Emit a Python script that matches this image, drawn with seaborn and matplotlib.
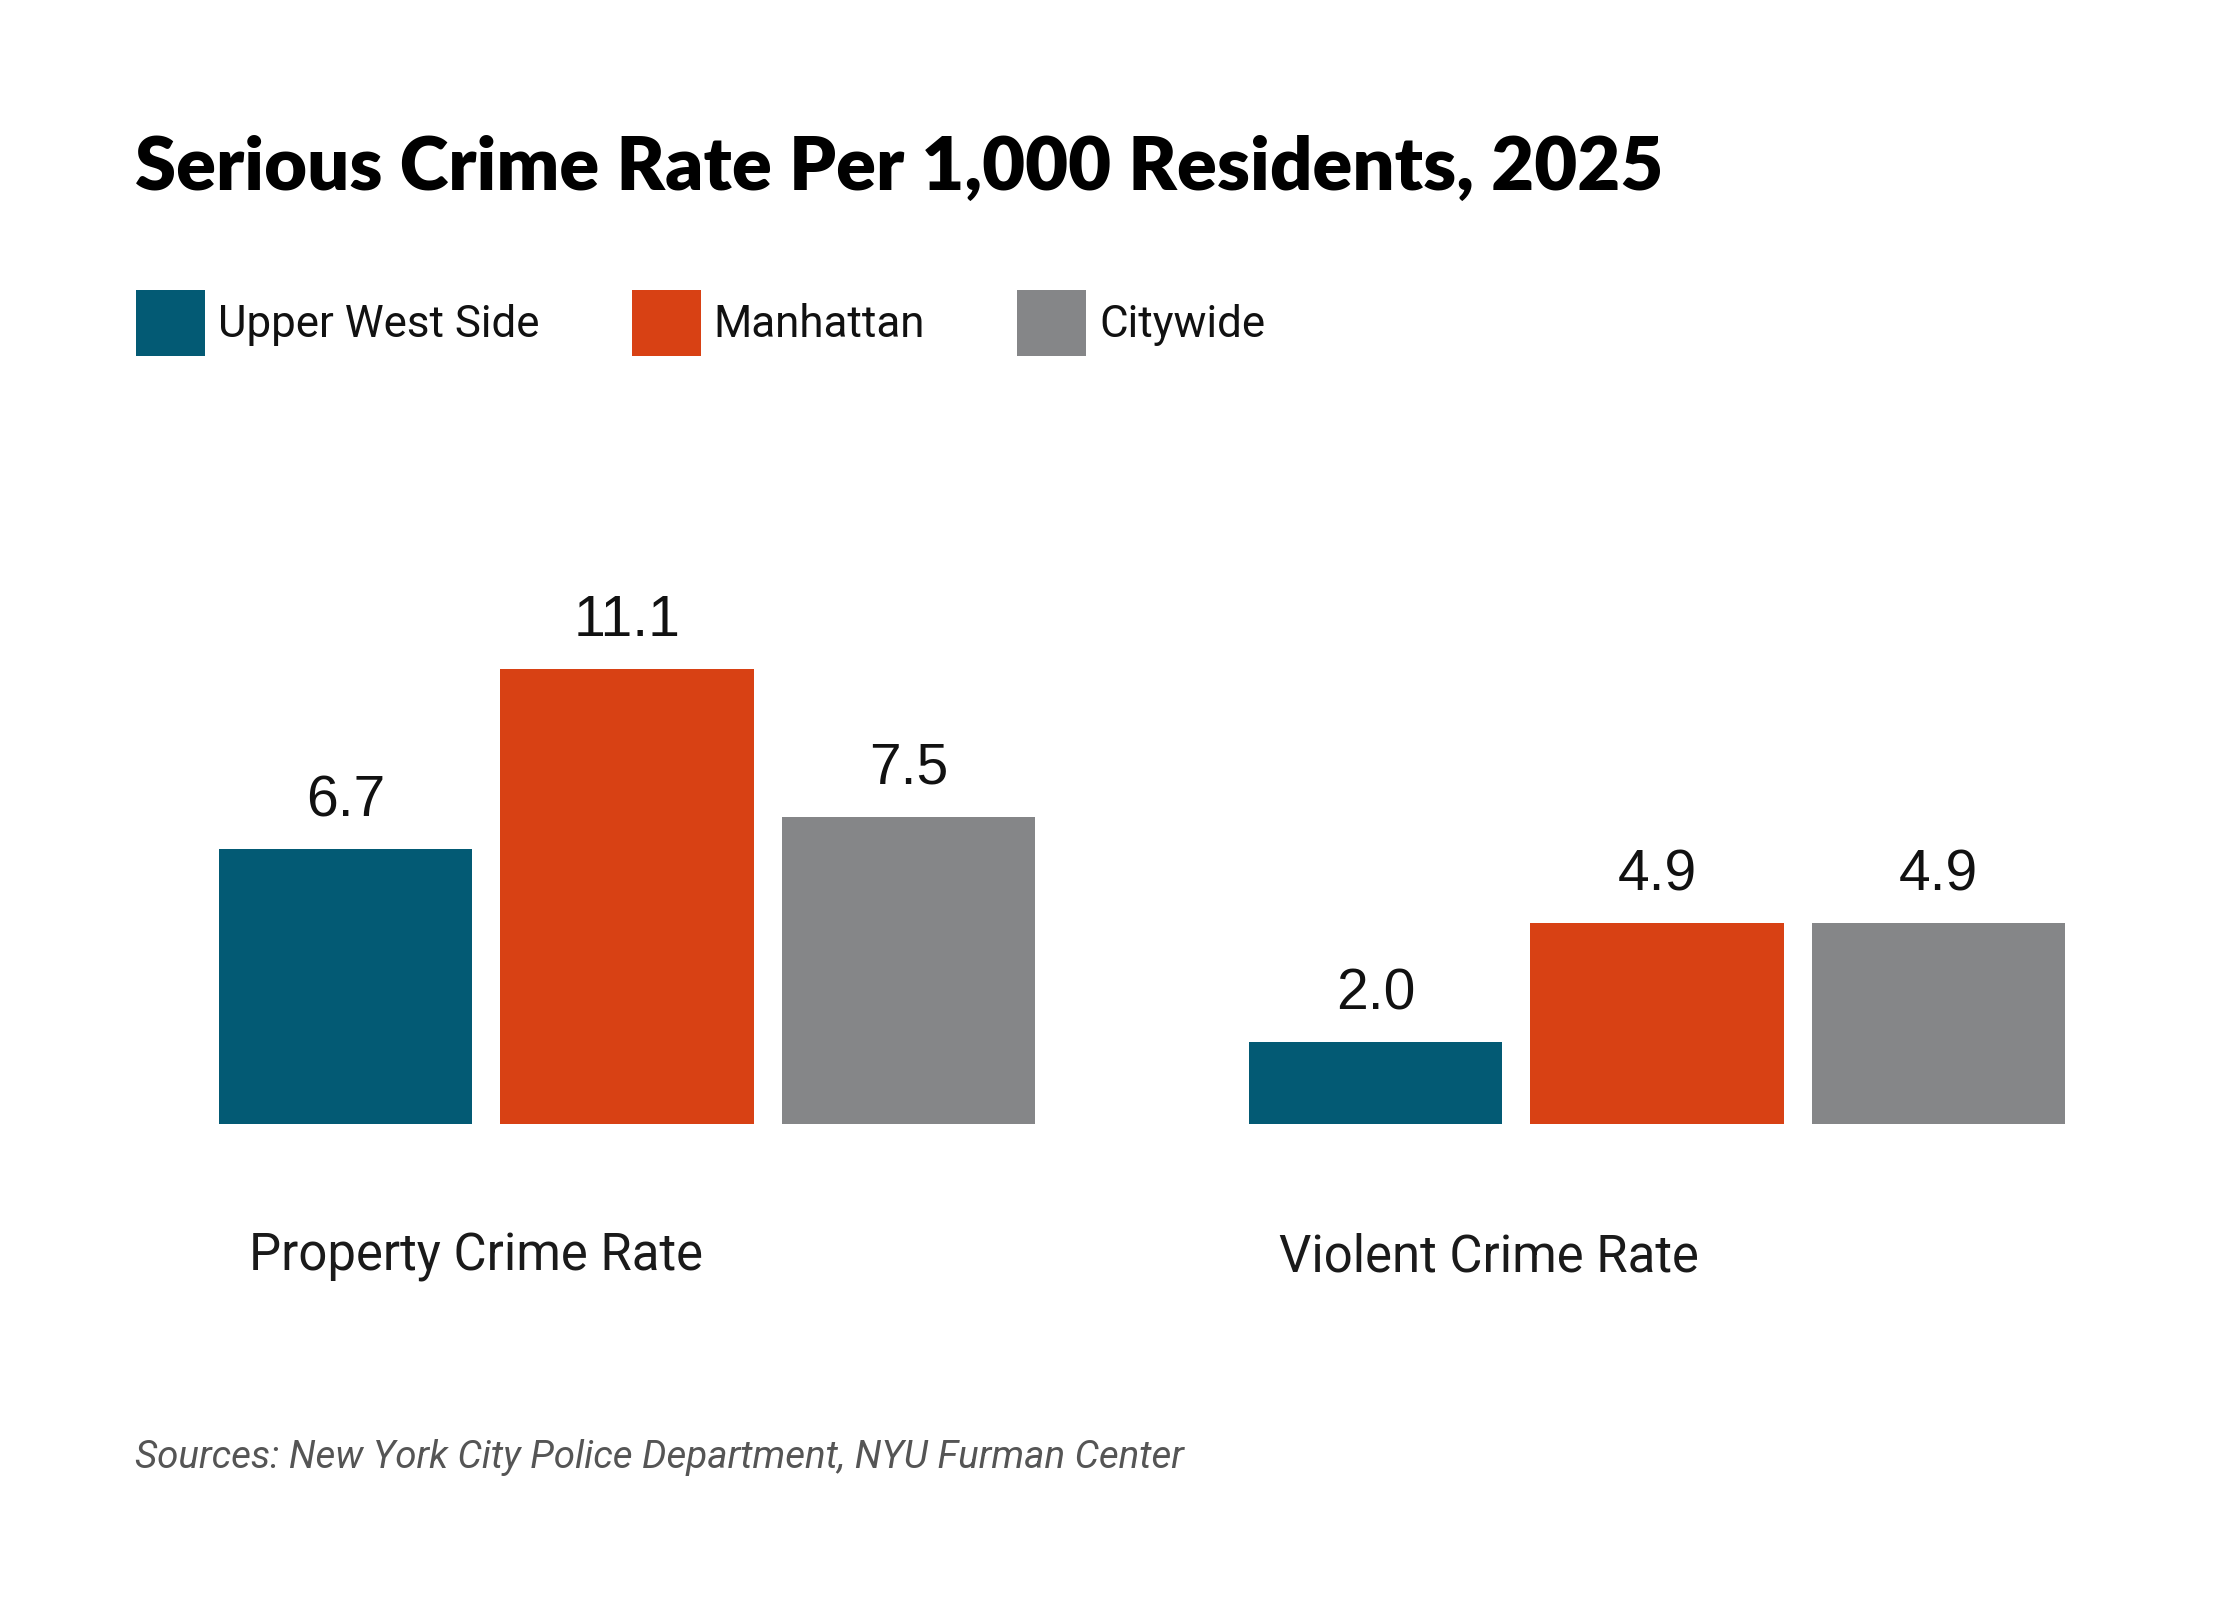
import matplotlib
matplotlib.use("Agg")
import matplotlib.pyplot as plt
import matplotlib.transforms as mtransforms
import pandas as pd
import seaborn as sns

# data
categories = ["Property Crime Rate", "Violent Crime Rate"]
areas = ["Upper West Side", "Manhattan", "Citywide"]
property_vals = [6.7, 11.1, 7.5]
violent_vals = [2.0, 4.9, 4.9]
colors = ["#035A74", "#D84114", "#858688"]

df = pd.DataFrame({
    "category": [categories[0]] * 3 + [categories[1]] * 3,
    "area": areas * 2,
    "rate": property_vals + violent_vals,
})

sns.set_theme(style="white")
plt.rcParams["font.family"] = ["Roboto", "DejaVu Sans"]

fig = plt.figure(figsize=(11.2, 8), dpi=200)
# axes placed so that group centres and the bar baseline sit where the reference has them
ax = fig.add_axes([112 / 2240, 1 - 1124 / 1600, 2060 / 2240, 574 / 1600])

sns.barplot(data=df, x="category", y="rate", hue="area", hue_order=areas,
            palette=colors, width=0.82, gap=0.1, saturation=1,
            linewidth=0, ax=ax)

ax.set_xlim(-0.5, 1.5)
ax.set_ylim(0, 14)
ax.set_xlabel("")
ax.set_ylabel("")
ax.set_xticks([])
ax.set_yticks([])
sns.despine(ax=ax, left=True, bottom=True)

# value labels
for cont in ax.containers:
    ax.bar_label(cont, fmt="%.1f", padding=7.5, fontsize=20.5,
                 family="Liberation Sans", color="#111111")

# category labels under each group
trans = mtransforms.blended_transform_factory(ax.transData, ax.transAxes)
for i, cat in enumerate(categories):
    ax.text(i - 0.367, (1124 - 1257) / 574, cat, transform=trans,
            ha="left", va="center", fontsize=18.3, color="#1a1a1a")

# legend
sns.move_legend(ax, "upper left", bbox_to_anchor=(136 / 2240, 1 - 290 / 1600),
                bbox_transform=fig.transFigure, ncol=3, frameon=False,
                title=None, fontsize=15.8, handlelength=1.57, handleheight=1.95,
                handletextpad=0.3, columnspacing=2.1, borderpad=0,
                borderaxespad=0)
for t in ax.get_legend().get_texts():
    t.set_color("#111111")

# title and source
fig.text(135 / 2240, 1 - 190 / 1600, "Serious Crime Rate Per 1,000 Residents, 2025",
         fontsize=26.7, fontweight="heavy", family=["Lato", "DejaVu Sans"],
         color="#000000", ha="left", va="baseline")
fig.text(135 / 2240, 1 - 1458 / 1600,
         "Sources: New York City Police Department, NYU Furman Center",
         fontsize=13.85, style="italic", fontweight="normal", color="#555555",
         ha="left", va="center")

fig.savefig("out.png", dpi=200, facecolor="white")
